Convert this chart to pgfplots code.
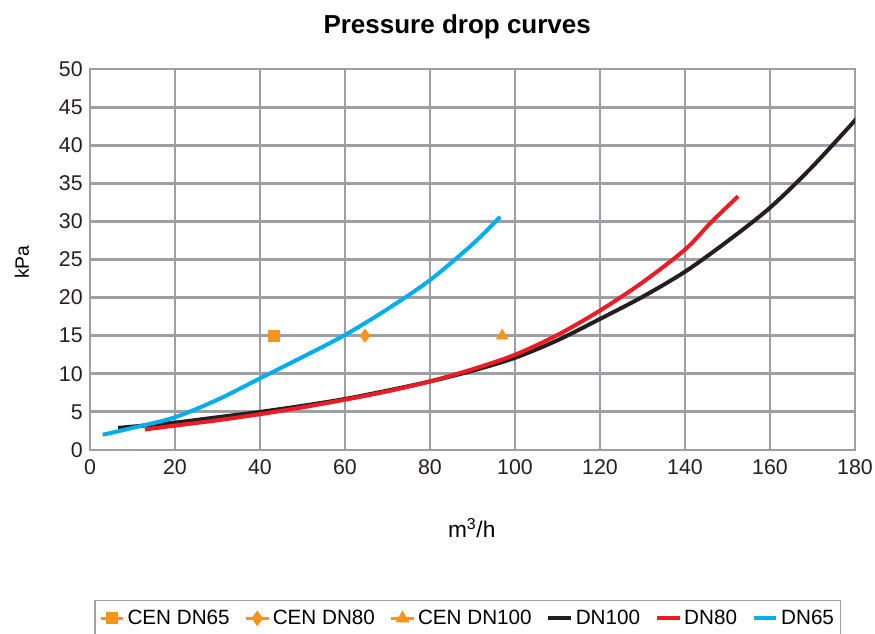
\documentclass[border=0pt]{standalone}
\usepackage{pgfplots}
\pgfplotsset{compat=1.18}
\usepackage{fontspec}
\setmainfont{Liberation Sans}
\definecolor{gridgray}{HTML}{9D9FA2}
\definecolor{cyanc}{HTML}{00AEEF}
\definecolor{redc}{HTML}{ED1C24}
\definecolor{blackc}{HTML}{231F20}
\definecolor{orangec}{HTML}{F7941D}
\begin{document}
\begin{tikzpicture}[x=0.75pt,y=0.75pt]
\path[use as bounding box] (-90,-183) rectangle (785,450);
\begin{axis}[
  at={(0,0)}, anchor=south west,
  scale only axis, width=573.75pt, height=285.75pt,
  xmin=0, xmax=180, ymin=0, ymax=50,
  xtick={0,20,...,180}, ytick={0,5,...,50},
  grid=major,
  major grid style={gridgray, line width=2.2pt},
  axis line style={gridgray, line width=2.2pt},
  major tick length=0pt,
  tick label style={font=\fontsize{16}{18}\selectfont, text=blackc},
  /pgf/number format/assume math mode=true,
  xticklabel style={yshift=-4pt},
  yticklabel style={xshift=-2pt},
  title={\fontsize{19.5}{22}\selectfont\bfseries Pressure drop curves},
  title style={at={(axis description cs:0.48,1.089)}, anchor=center, yshift=0pt},
  xlabel={m\textsuperscript{3}/h},
  xlabel style={at={(axis description cs:0.499,-0.205)}, anchor=center, font=\fontsize{17}{19}\selectfont},
  ylabel={kPa},
  ylabel style={at={(axis description cs:-0.089,0.493)}, anchor=center, font=\fontsize{14.5}{16}\selectfont},
  legend columns=-1,
  legend style={at={(axis description cs:0.494,-0.394)}, anchor=north,
    draw=gridgray, line width=1pt, font=\fontsize{15.5}{17}\selectfont,
    /tikz/every even column/.append style={column sep=9pt},
    inner ysep=5pt},
  legend image code/.code={\draw[#1, line width=2.2pt] (0cm,0cm) -- (0.6cm,0cm); \draw[#1,mark repeat=2,mark phase=2] plot coordinates {(0cm,0cm) (0.3cm,0cm) (0.6cm,0cm)};},
]
\addplot[orangec, mark=square*, mark size=4pt, only marks] coordinates {(43.3,15)};
\addlegendentry{CEN DN65}
\addplot[orangec, mark=diamond*, mark size=5pt, only marks] coordinates {(64.7,15)};
\addlegendentry{CEN DN80}
\addplot[orangec, mark=triangle*, mark size=5pt, only marks] coordinates {(97,15)};
\addlegendentry{CEN DN100}
\addplot[blackc, line width=3pt, smooth, no marks] coordinates {
 (6.6,2.9) (20,3.6) (30,4.3) (40,5.0) (50,5.8) (60,6.7) (70,7.8) (80,9.0)
 (90,10.4) (100,12.1) (110,14.4) (120,17.2) (130,20.1) (140,23.4)
 (150,27.4) (160,31.8) (170,37.2) (180.7,43.7)};
\addlegendentry{DN100}
\addplot[redc, line width=3pt, smooth, no marks] coordinates {
 (12.9,2.7) (20,3.2) (30,3.9) (40,4.7) (50,5.6) (60,6.6) (70,7.7) (80,9.0)
 (90,10.6) (100,12.5) (110,15.1) (120,18.3) (130,22.0) (140,26.3)
 (146,29.8) (152.5,33.3)};
\addlegendentry{DN80}
\addplot[cyanc, line width=3pt, smooth, no marks] coordinates {
 (3,2.0) (10,2.9) (20,4.3) (30,6.6) (40,9.4) (50,12.2) (60,15.1) (70,18.5)
 (80,22.3) (90,27.0) (96.5,30.6)};
\addlegendentry{DN65}
\end{axis}
\end{tikzpicture}
\end{document}
